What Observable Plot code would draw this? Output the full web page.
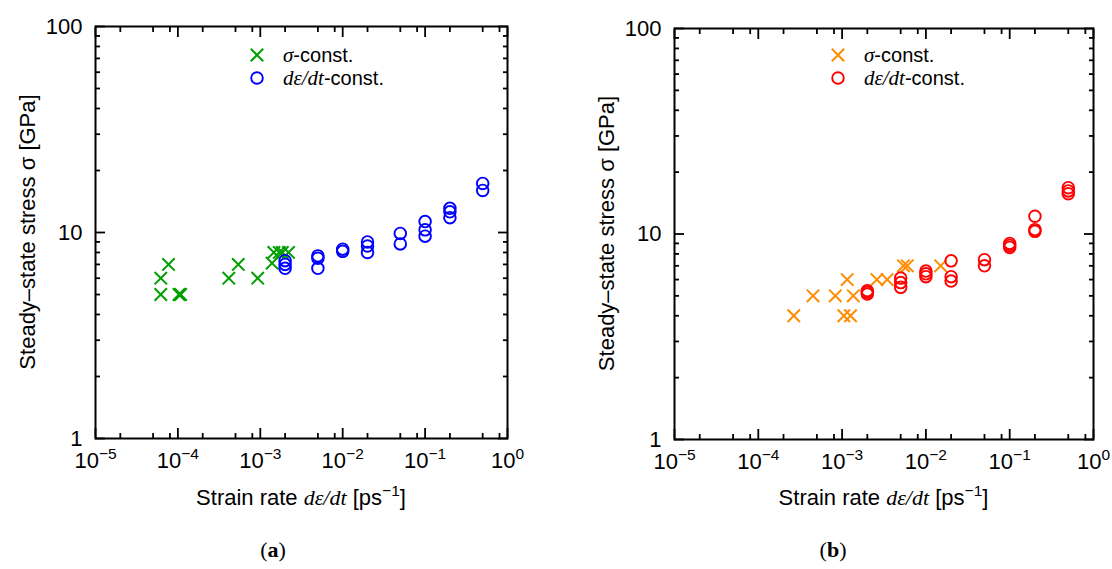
<!DOCTYPE html>
<html><head><meta charset="utf-8">
<script src="https://cdn.jsdelivr.net/npm/d3@7"></script>
<script src="https://cdn.jsdelivr.net/npm/@observablehq/plot@0.6"></script>
<style>
body{margin:0;background:#fff;}
#wrap{display:flex;width:1112px;height:569px;background:#fff;}
</style></head><body><div id="wrap"></div>
<script>
// ---- axis ticks ----
const xMajor = [1e-5, 1e-4, 1e-3, 1e-2, 1e-1, 1];
const xExponents = ["−5", "−4", "−3", "−2", "−1", "0"];
const xMinorFactors = [2, 5, 8];
const yMajor = [1, 10, 100];
const yMajorLabels = ["1", "10", "100"];
const yMinorFactors = [2, 3, 4, 5, 6, 7, 8, 9];

// ---- panel (a) ----
const sigmaA_rate   = [6.2e-5, 6.2e-5, 7.7e-5, 1.03e-4, 1.08e-4, 4.15e-4, 5.4e-4, 9.3e-4, 1.39e-3, 1.46e-3, 1.7e-3, 1.85e-3, 2.2e-3];
const sigmaA_stress = [5, 6, 7, 5, 5, 6, 7, 6, 7.1, 8, 8, 8, 8];
const rateA_rate   = [2e-3, 2e-3, 2e-3, 5e-3, 5e-3, 5e-3, 1e-2, 1e-2, 2e-2, 2e-2, 2e-2, 5e-2, 5e-2, 0.1, 0.1, 0.1, 0.2, 0.2, 0.2, 0.5, 0.5];
const rateA_stress = [7.3, 7.0, 6.7, 7.7, 7.5, 6.7, 8.3, 8.1, 9.0, 8.6, 8.0, 9.9, 8.8, 11.3, 10.3, 9.6, 13.1, 12.6, 11.8, 17.3, 16.0];

// ---- panel (b) ----
const sigmaB_rate   = [2.65e-4, 4.5e-4, 8.3e-4, 1.05e-3, 1.15e-3, 1.26e-3, 1.36e-3, 2.6e-3, 3.45e-3, 5.4e-3, 6.0e-3, 1.5e-2];
const sigmaB_stress = [4, 5, 5, 4, 6, 4, 5, 6, 6, 7, 7, 7];
const rateB_rate   = [2e-3, 2e-3, 2e-3, 5e-3, 5e-3, 5e-3, 1e-2, 1e-2, 1e-2, 2e-2, 2e-2, 2e-2, 5e-2, 5e-2, 0.1, 0.1, 0.1, 0.2, 0.2, 0.2, 0.5, 0.5, 0.5];
const rateB_stress = [5.3, 5.2, 5.1, 6.1, 5.8, 5.5, 6.6, 6.4, 6.2, 7.4, 6.2, 5.9, 7.5, 7.0, 9.0, 8.8, 8.6, 12.2, 10.5, 10.3, 16.8, 16.2, 15.7];

const legendLabels = [["σ", "-const."], ["dε/dt", "-const."]];
const captions = ["a", "b"];

const xMinor = xMajor.slice(0, -1).flatMap(d => xMinorFactors.map(f => f * d));
const yMinor = yMajor.slice(0, -1).flatMap(d => yMinorFactors.map(f => f * d));

const SANS = "Liberation Sans, Arial, Helvetica, sans-serif";
const SERIF = "Liberation Serif, Times New Roman, serif";

function panel(cfg) {
  const sigma = cfg.sigmaRate.map((r, i) => ({rate: r, stress: cfg.sigmaStress[i]}));
  const rate = cfg.rateRate.map((r, i) => ({rate: r, stress: cfg.rateStress[i]}));
  const tick = {fill: "none", stroke: "black", strokeWidth: 1.8, label: null};
  const svg = Plot.plot({
    width: 556, height: 569,
    marginLeft: cfg.ml, marginRight: cfg.mr, marginTop: cfg.mt, marginBottom: cfg.mb,
    style: {fontFamily: SANS, fontSize: "22px", color: "black", background: "white", overflow: "visible"},
    x: {type: "log", domain: [1e-5, 1]},
    y: {type: "log", domain: [1, 100]},
    marks: [
      Plot.axisX(xMinor, {anchor: "bottom", tickSize: -5, ...tick}),
      Plot.axisX(xMinor, {anchor: "top", tickSize: -5, ...tick}),
      Plot.axisX(xMajor, {anchor: "bottom", tickSize: -10, ...tick}),
      Plot.axisX(xMajor, {anchor: "top", tickSize: -10, ...tick}),
      Plot.axisY(yMinor, {anchor: "left", tickSize: -5, ...tick}),
      Plot.axisY(yMinor, {anchor: "right", tickSize: -5, ...tick}),
      Plot.axisY(yMajor, {anchor: "left", tickSize: -10, ...tick}),
      Plot.axisY(yMajor, {anchor: "right", tickSize: -10, ...tick}),
      Plot.axisX(xMajor, {anchor: "bottom", tickSize: 0, tickPadding: 14, fontSize: 22, fill: "black", label: null,
        tickFormat: d => "10^" + xExponents[xMajor.indexOf(d)]}),
      Plot.axisY(yMajor, {anchor: "left", tickSize: 0, tickPadding: 13, fontSize: 22, fill: "black", label: null,
        tickFormat: d => yMajorLabels[yMajor.indexOf(d)]}),
      Plot.frame({stroke: "black", strokeWidth: 2}),
      Plot.dot(sigma, {x: "rate", y: "stress", symbol: "times", r: 5.7, stroke: cfg.crossColor, strokeWidth: 2}),
      Plot.dot(rate, {x: "rate", y: "stress", r: 5.8, stroke: cfg.circleColor, strokeWidth: 1.9, fill: "none"})
    ]
  });
  const s = d3.select(svg);
  // superscripts on x tick labels
  s.selectAll('g[aria-label="x-axis tick label"] text').each(function() {
    const t = d3.select(this);
    const parts = t.text().split("^");
    t.text(parts[0]);
    t.append("tspan").attr("dy", -9).attr("font-size", 15.5).text(parts[1]);
  });
  const W = 556;
  const fx = cfg.ml + (W - cfg.ml - cfg.mr) / 2;
  const fy = cfg.mt + (569 - cfg.mt - cfg.mb) / 2;
  // y label
  s.append("text").attr("transform", `translate(${cfg.ylx},${fy}) rotate(-90)`)
    .attr("text-anchor", "middle").attr("dy", "0.35em").attr("font-size", 22).attr("font-family", SANS)
    .text("Steady–state stress σ [GPa]");
  // x label
  const xl = s.append("text").attr("x", fx).attr("y", 505).attr("text-anchor", "middle")
    .attr("font-size", 22).attr("font-family", SANS);
  xl.append("tspan").text("Strain rate ");
  xl.append("tspan").attr("font-family", SERIF).attr("font-style", "italic").text("dε/dt");
  xl.append("tspan").text(" [ps");
  xl.append("tspan").attr("dy", -9).attr("font-size", 15.5).text("−1");
  xl.append("tspan").attr("dy", 9).text("]");
  // legend
  const lg = s.append("g").attr("font-size", 20).attr("font-family", SANS).attr("text-anchor", "start");
  const rows = [cfg.legY, cfg.legY + 23];
  lg.append("path").attr("transform", `translate(${cfg.legX},${rows[0]})`)
    .attr("d", d3.symbol(d3.symbolTimes, Math.PI * 5.7 * 5.7)())
    .attr("fill", "none").attr("stroke", cfg.crossColor).attr("stroke-width", 2);
  lg.append("circle").attr("cx", cfg.legX).attr("cy", rows[1]).attr("r", 5.8)
    .attr("fill", "none").attr("stroke", cfg.circleColor).attr("stroke-width", 1.9);
  legendLabels.forEach((lab, i) => {
    const t = lg.append("text").attr("x", cfg.legX + 26).attr("y", rows[i]).attr("dy", "0.35em")
      .attr("text-anchor", "start");
    t.append("tspan").attr("font-family", SERIF).attr("font-style", "italic").attr("font-size", 21).text(lab[0]);
    t.append("tspan").text(lab[1]);
  });
  // caption
  const c = s.append("text").attr("x", cfg.capX).attr("y", 557).attr("text-anchor", "middle")
    .attr("font-size", 22).attr("font-family", SERIF);
  c.append("tspan").text("(");
  c.append("tspan").attr("font-weight", "bold").text(cfg.caption);
  c.append("tspan").text(")");
  return svg;
}

const wrap = document.getElementById("wrap");
wrap.appendChild(panel({
  sigmaRate: sigmaA_rate, sigmaStress: sigmaA_stress, rateRate: rateA_rate, rateStress: rateA_stress,
  crossColor: "#00a000", circleColor: "#0000ff",
  ml: 95, mr: 49, mt: 26, mb: 131, ylx: 27, legX: 257, legY: 55, capX: 273, caption: captions[0]
}));
wrap.appendChild(panel({
  sigmaRate: sigmaB_rate, sigmaStress: sigmaB_stress, rateRate: rateB_rate, rateStress: rateB_stress,
  crossColor: "#ff8c00", circleColor: "#ff0000",
  ml: 118, mr: 19, mt: 28, mb: 130, ylx: 50, legX: 282, legY: 55, capX: 277, caption: captions[1]
}));
</script></body></html>
